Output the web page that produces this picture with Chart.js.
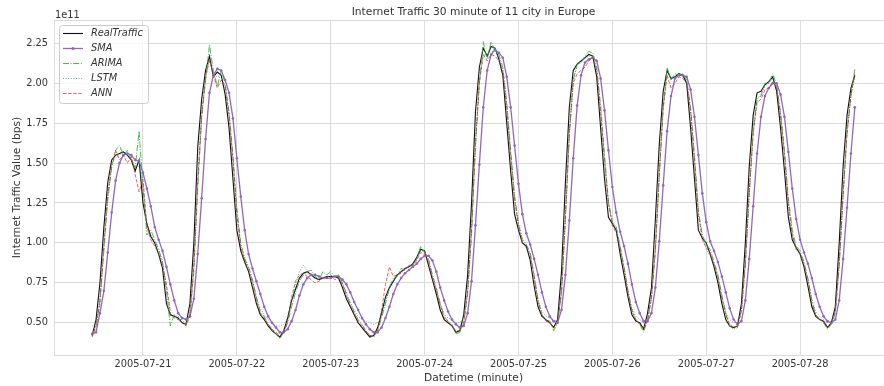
<!DOCTYPE html>
<html>
<head>
<meta charset="utf-8">
<script src="https://cdn.jsdelivr.net/npm/chart.js@4.4.0/dist/chart.umd.min.js"></script>
<style>
  html, body { margin: 0; padding: 0; background: #fff; overflow: hidden; }
  #wrap { width: 900px; height: 386px; }
</style>
</head>
<body>
<div id="wrap"><canvas id="trafficChart" width="900" height="386"></canvas></div>
<script>
// values are in units of 1e11 bps, one point per hour
// x is hours counted from 2005-07-20 00:00, first point is 2005-07-20 11:00
var startHour = 11;

var realTraffic = [
  0.42,0.52,0.75,1.10,1.38,1.52,1.55,1.56,1.57,1.55,1.52,1.45,
  1.52,1.25,1.12,1.04,1.00,0.93,0.84,0.62,0.55,0.54,0.53,0.50,
  0.49,0.62,1.00,1.60,1.90,2.08,2.17,2.04,2.07,2.05,1.93,1.72,
  1.40,1.08,0.95,0.88,0.82,0.72,0.62,0.55,0.52,0.48,0.45,0.43,
  0.41,0.45,0.53,0.64,0.71,0.78,0.81,0.82,0.80,0.78,0.77,0.78,
  0.79,0.79,0.79,0.78,0.72,0.65,0.60,0.55,0.50,0.47,0.44,0.41,
  0.42,0.47,0.56,0.66,0.72,0.76,0.80,0.82,0.84,0.85,0.87,0.91,
  0.96,0.95,0.86,0.77,0.68,0.58,0.52,0.50,0.48,0.44,0.45,0.55,
  0.80,1.25,1.82,2.10,2.22,2.17,2.23,2.22,2.15,2.05,1.75,1.45,
  1.18,1.08,1.00,0.98,0.89,0.73,0.60,0.54,0.52,0.50,0.47,0.52,
  0.82,1.38,1.85,2.08,2.12,2.14,2.16,2.18,2.17,2.04,1.72,1.40,
  1.16,1.12,1.08,0.93,0.80,0.66,0.55,0.51,0.50,0.46,0.56,0.72,
  1.15,1.62,1.95,2.08,2.03,2.04,2.06,2.05,2.00,1.72,1.40,1.08,
  1.03,1.00,0.93,0.85,0.75,0.62,0.52,0.48,0.47,0.48,0.62,1.00,
  1.48,1.80,1.94,1.95,1.99,2.01,2.04,1.95,1.72,1.45,1.16,1.02,
  0.97,0.93,0.85,0.73,0.60,0.54,0.52,0.51,0.47,0.50,0.60,1.00,
  1.48,1.80,1.97,2.05
];

var smaValues = [
  0.43,0.44,0.56,0.70,0.94,1.19,1.39,1.50,1.55,1.56,1.55,1.52,
  1.51,1.44,1.34,1.23,1.10,1.02,0.95,0.85,0.74,0.64,0.56,0.53,
  0.52,0.54,0.65,0.93,1.28,1.65,1.94,2.05,2.09,2.08,2.02,1.94,
  1.78,1.53,1.29,1.08,0.93,0.84,0.76,0.68,0.60,0.54,0.50,0.47,
  0.44,0.44,0.46,0.51,0.58,0.67,0.74,0.78,0.80,0.80,0.79,0.78,
  0.78,0.78,0.79,0.79,0.77,0.74,0.69,0.63,0.58,0.53,0.49,0.46,
  0.44,0.44,0.47,0.53,0.60,0.68,0.74,0.78,0.81,0.83,0.85,0.87,
  0.90,0.92,0.92,0.89,0.82,0.72,0.64,0.57,0.52,0.49,0.47,0.48,
  0.56,0.76,1.11,1.49,1.85,2.08,2.18,2.21,2.19,2.16,2.04,1.85,
  1.61,1.37,1.18,1.06,0.99,0.90,0.80,0.69,0.60,0.54,0.51,0.50,
  0.58,0.80,1.14,1.53,1.86,2.05,2.13,2.15,2.16,2.14,2.03,1.83,
  1.58,1.35,1.19,1.07,0.98,0.87,0.74,0.63,0.56,0.51,0.51,0.56,
  0.72,1.01,1.36,1.70,1.92,2.03,2.05,2.05,2.04,1.96,1.79,1.55,
  1.31,1.13,1.01,0.95,0.88,0.79,0.69,0.59,0.52,0.49,0.51,0.64,
  0.90,1.23,1.56,1.79,1.92,1.97,2.00,2.00,1.93,1.79,1.57,1.34,
  1.15,1.02,0.94,0.87,0.78,0.68,0.60,0.54,0.51,0.50,0.52,0.64,
  0.90,1.22,1.56,1.85
];

var arimaValues = [
  0.43,0.47,0.64,0.95,1.27,1.47,1.58,1.61,1.55,1.58,1.52,1.47,
  1.70,1.35,1.05,1.08,1.02,0.96,0.88,0.70,0.48,0.55,0.52,0.52,
  0.49,0.55,0.82,1.34,1.78,2.02,2.24,2.08,1.98,2.08,2.00,1.82,
  1.55,1.22,1.00,0.90,0.85,0.77,0.66,0.57,0.54,0.49,0.46,0.43,
  0.40,0.44,0.50,0.60,0.69,0.76,0.80,0.82,0.83,0.79,0.77,0.82,
  0.80,0.82,0.79,0.80,0.75,0.68,0.62,0.57,0.52,0.49,0.45,0.42,
  0.41,0.45,0.53,0.62,0.72,0.78,0.79,0.84,0.83,0.86,0.86,0.90,
  0.98,0.94,0.90,0.80,0.72,0.62,0.54,0.51,0.49,0.43,0.44,0.50,
  0.68,1.05,1.60,2.00,2.26,2.15,2.26,2.20,2.18,2.10,1.88,1.58,
  1.30,1.12,1.02,0.99,0.94,0.80,0.64,0.55,0.52,0.51,0.45,0.50,
  0.68,1.15,1.68,2.02,2.12,2.13,2.17,2.20,2.19,2.10,1.86,1.55,
  1.26,1.13,1.10,0.98,0.85,0.70,0.58,0.52,0.49,0.44,0.52,0.66,
  0.95,1.42,1.85,2.10,2.02,2.06,2.05,2.06,2.02,1.85,1.55,1.20,
  1.05,0.99,0.96,0.88,0.80,0.67,0.56,0.48,0.46,0.47,0.58,0.85,
  1.30,1.70,1.90,1.92,2.00,2.00,2.06,1.99,1.82,1.58,1.28,1.08,
  0.98,0.95,0.88,0.78,0.64,0.55,0.52,0.50,0.46,0.49,0.56,0.85,
  1.30,1.70,1.92,2.09
];

var lstmValues = [
  0.48,0.50,0.66,1.00,1.30,1.50,1.53,1.55,1.56,1.55,1.53,1.48,
  1.48,1.34,1.12,1.05,1.01,0.96,0.88,0.72,0.58,0.55,0.54,0.53,
  0.52,0.57,0.86,1.40,1.82,2.04,2.14,2.06,2.04,2.05,1.97,1.80,
  1.52,1.18,0.98,0.91,0.85,0.76,0.66,0.59,0.55,0.52,0.49,0.48,
  0.48,0.49,0.53,0.63,0.74,0.82,0.86,0.83,0.80,0.78,0.77,0.78,
  0.79,0.79,0.79,0.79,0.75,0.69,0.63,0.58,0.54,0.52,0.51,0.50,
  0.49,0.50,0.54,0.63,0.71,0.76,0.79,0.82,0.83,0.85,0.86,0.90,
  0.95,0.95,0.89,0.80,0.71,0.62,0.55,0.53,0.52,0.50,0.50,0.53,
  0.70,1.10,1.65,2.02,2.18,2.17,2.20,2.20,2.16,2.08,1.85,1.55,
  1.28,1.12,1.03,0.99,0.93,0.79,0.65,0.57,0.54,0.53,0.51,0.52,
  0.70,1.18,1.70,2.02,2.11,2.13,2.15,2.17,2.16,2.08,1.82,1.50,
  1.24,1.14,1.09,0.97,0.84,0.70,0.59,0.54,0.52,0.50,0.53,0.66,
  0.98,1.45,1.86,2.06,2.04,2.04,2.05,2.05,2.01,1.82,1.50,1.18,
  1.04,0.96,0.92,0.86,0.79,0.67,0.57,0.52,0.50,0.50,0.58,0.88,
  1.32,1.70,1.90,1.93,1.98,2.00,2.03,1.98,1.80,1.55,1.25,1.05,
  0.97,0.93,0.87,0.77,0.65,0.57,0.54,0.52,0.50,0.51,0.57,0.88,
  1.32,1.70,1.93,2.03
];

var annValues = [
  0.41,0.48,0.62,0.98,1.30,1.49,1.58,1.52,1.55,1.50,1.54,1.43,
  1.32,1.40,1.10,1.02,0.98,0.93,0.86,0.74,0.56,0.53,0.52,0.50,
  0.48,0.54,0.85,1.38,1.80,2.03,2.15,2.05,1.97,2.02,1.98,1.80,
  1.52,1.18,0.97,0.89,0.83,0.75,0.64,0.56,0.53,0.49,0.46,0.44,
  0.42,0.44,0.51,0.66,0.76,0.80,0.81,0.79,0.77,0.75,0.76,0.78,
  0.78,0.80,0.77,0.78,0.74,0.67,0.61,0.56,0.51,0.48,0.45,0.42,
  0.42,0.45,0.58,0.74,0.85,0.79,0.80,0.81,0.84,0.85,0.86,0.89,
  0.94,0.93,0.88,0.78,0.70,0.61,0.53,0.50,0.48,0.45,0.45,0.50,
  0.70,1.08,1.62,2.00,2.18,2.14,2.18,2.17,2.14,2.07,1.85,1.55,
  1.27,1.10,1.00,0.97,0.92,0.78,0.63,0.55,0.51,0.50,0.47,0.50,
  0.70,1.15,1.68,2.00,2.06,2.08,2.10,2.14,2.16,2.08,1.82,1.52,
  1.25,1.11,1.06,0.96,0.83,0.69,0.57,0.52,0.49,0.46,0.51,0.65,
  0.96,1.43,1.84,2.05,1.97,2.00,2.04,2.03,2.00,1.83,1.52,1.18,
  1.02,0.97,0.94,0.87,0.78,0.65,0.55,0.49,0.47,0.48,0.57,0.88,
  1.32,1.68,1.88,1.90,1.96,1.97,2.01,1.97,1.80,1.55,1.25,1.05,
  0.96,0.93,0.86,0.76,0.62,0.55,0.52,0.51,0.47,0.50,0.57,0.88,
  1.30,1.68,1.92,2.07
];

var dayTicks = [24, 48, 72, 96, 120, 144, 168, 192];
var dayLabels = ['2005-07-21','2005-07-22','2005-07-23','2005-07-24',
                 '2005-07-25','2005-07-26','2005-07-27','2005-07-28'];
var valueTicks = [0.50, 0.75, 1.00, 1.25, 1.50, 1.75, 2.00, 2.25];

var chartTitle = 'Internet Traffic 30 minute of 11 city in Europe';
var gridColor = '#dcdcdc';
var textColor = '#333333';
var fontName = '"DejaVu Sans", "Liberation Sans", sans-serif';

function toPoints(values) {
  return values.map(function(v, i) { return {x: startHour + i, y: v}; });
}

//series styles, also used by the legend below
var series = [
  {label: 'RealTraffic', data: realTraffic, color: '#111111', width: 1.1, dash: [], marker: false, order: 4},
  {label: 'SMA', data: smaValues, color: '#9467bd', width: 1.3, dash: [], marker: true, order: 3},
  {label: 'ARIMA', data: arimaValues, color: 'rgba(44,180,44,0.85)', width: 1, dash: [6, 1.6, 1, 1.6], marker: false, order: 2},
  {label: 'LSTM', data: lstmValues, color: 'rgba(31,119,180,0.65)', width: 1, dash: [1, 1.6], marker: false, order: 1},
  {label: 'ANN', data: annValues, color: 'rgba(214,39,40,0.7)', width: 1, dash: [3.5, 1.6], marker: false, order: 0}
];

var datasets = series.map(function(s) {
  return {
    label: s.label,
    data: toPoints(s.data),
    borderColor: s.color,
    backgroundColor: s.color,
    borderWidth: s.width,
    borderDash: s.dash,
    pointRadius: s.marker ? 1.3 : 0,
    pointBorderWidth: 0,
    pointBackgroundColor: s.color,
    tension: 0,
    fill: false,
    order: s.order
  };
});

//title, offset text, top spine and matplotlib-like legend
var decorations = {
  id: 'decorations',
  afterDraw: function(chart) {
    var ctx = chart.ctx;
    var a = chart.chartArea;
    ctx.save();
    ctx.strokeStyle = gridColor;
    ctx.lineWidth = 1;
    ctx.beginPath();
    ctx.moveTo(a.left, Math.round(a.top) + 0.5);
    ctx.lineTo(a.right, Math.round(a.top) + 0.5);
    ctx.stroke();

    ctx.fillStyle = textColor;
    ctx.textBaseline = 'middle';
    ctx.textAlign = 'center';
    ctx.font = '10.7px ' + fontName;
    ctx.fillText(chartTitle, (a.left + a.right) / 2, 12.5);

    ctx.textAlign = 'left';
    ctx.font = '9.8px ' + fontName;
    ctx.fillText('1e11', a.left + 1, 15);

    var lx = a.left + 5, ly = a.top + 5, lw = 89, lh = 78;
    ctx.fillStyle = 'rgba(255,255,255,0.8)';
    ctx.strokeStyle = '#cccccc';
    ctx.beginPath();
    ctx.roundRect(lx + 0.5, ly + 0.5, lw, lh, 3);
    ctx.fill();
    ctx.stroke();

    ctx.font = 'italic 9.8px ' + fontName;
    series.forEach(function(s, i) {
      var y = ly + 8.5 + i * 15;
      ctx.strokeStyle = s.color;
      ctx.lineWidth = s.width;
      ctx.setLineDash(s.dash);
      ctx.beginPath();
      ctx.moveTo(lx + 4, y);
      ctx.lineTo(lx + 24, y);
      ctx.stroke();
      ctx.setLineDash([]);
      if (s.marker) {
        ctx.fillStyle = s.color;
        ctx.beginPath();
        ctx.arc(lx + 14, y, 1.5, 0, Math.PI * 2);
        ctx.fill();
      }
      ctx.fillStyle = textColor;
      ctx.fillText(s.label, lx + 32, y);
    });
    ctx.restore();
  }
};

var ctx = document.getElementById('trafficChart').getContext('2d');
var myChart = new Chart(ctx, {
  type: 'line',
  data: {datasets: datasets},
  plugins: [decorations],
  options: {
    responsive: false,
    animation: false,
    devicePixelRatio: 1,
    layout: {padding: {top: 20, right: 7, left: 0, bottom: 0}},
    plugins: {
      legend: {display: false},
      tooltip: {enabled: false}
    },
    scales: {
      x: {
        type: 'linear',
        min: 1.25,
        max: 215.75,
        afterFit: function(s) { s.height = 31; },
        afterBuildTicks: function(s) {
          s.ticks = dayTicks.map(function(v) { return {value: v}; });
        },
        ticks: {
          padding: 4,
          maxRotation: 0,
          autoSkip: false,
          color: textColor,
          font: {family: fontName, size: 9.8},
          callback: function(v) { return dayLabels[dayTicks.indexOf(v)]; }
        },
        grid: {color: gridColor, drawTicks: false},
        border: {color: gridColor},
        title: {
          display: true,
          text: 'Datetime (minute)',
          color: textColor,
          font: {family: fontName, size: 10.7},
          padding: {top: 0, bottom: 1.4}
        }
      },
      y: {
        min: 0.298,
        max: 2.396,
        afterFit: function(s) { s.width = 54; },
        afterBuildTicks: function(s) {
          s.ticks = valueTicks.map(function(v) { return {value: v}; });
        },
        ticks: {
          padding: 6,
          color: textColor,
          font: {family: fontName, size: 9.8},
          callback: function(v) { return v.toFixed(2); }
        },
        grid: {color: gridColor, drawTicks: false},
        border: {color: gridColor},
        title: {
          display: true,
          text: 'Internet Traffic Value (bps)',
          color: textColor,
          font: {family: fontName, size: 10.7},
          padding: {top: 11, bottom: 0}
        }
      }
    }
  }
});
</script>
</body>
</html>
